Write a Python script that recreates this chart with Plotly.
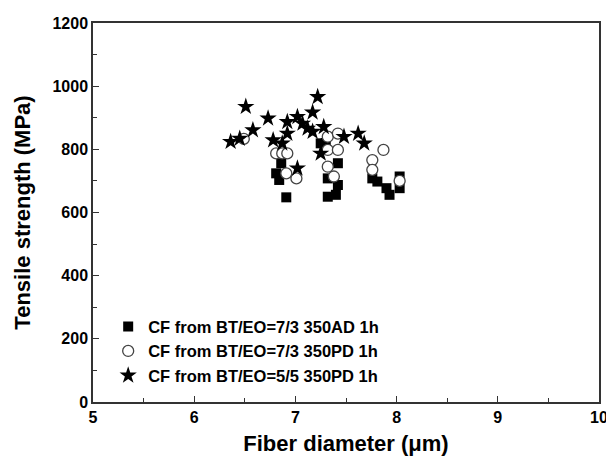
import plotly.graph_objects as go

# Series 1: CF from BT/EO=7/3 350AD 1h (filled squares)
sq_x = [6.86, 6.81, 6.84, 6.91, 7.25, 7.42, 7.32, 7.32, 7.40, 7.42, 7.30, 7.76, 7.81, 7.90, 7.93, 8.03, 8.03]
sq_y = [756, 724, 703, 648, 819, 756, 708, 650, 656, 687, 820, 708, 698, 677, 656, 714, 677]

# Series 2: CF from BT/EO=7/3 350PD 1h (open circles)
ci_x = [6.49, 6.81, 6.87, 6.92, 6.91, 7.01, 7.32, 7.42, 7.32, 7.42, 7.32, 7.38, 7.76, 7.87, 7.76, 8.03]
ci_y = [833, 787, 787, 787, 724, 708, 840, 850, 798, 798, 745, 714, 766, 798, 735, 700]

# Series 3: CF from BT/EO=5/5 350PD 1h (stars)
st_x = [6.36, 6.45, 6.51, 6.58, 6.73, 6.78, 6.87, 6.92, 6.92, 7.02, 7.07, 7.12, 7.02, 7.17, 7.22, 7.17, 7.28, 7.25, 7.48, 7.62, 7.68]
st_y = [824, 834, 935, 861, 898, 829, 819, 887, 850, 903, 882, 866, 740, 917, 966, 856, 871, 787, 840, 850, 819]

names = ["CF from BT/EO=7/3 350AD 1h", "CF from BT/EO=7/3 350PD 1h", "CF from BT/EO=5/5 350PD 1h"]

x_ticks = [5, 6, 7, 8, 9, 10]
y_ticks = [0, 200, 400, 600, 800, 1000, 1200]

fig = go.Figure()
fig.add_trace(go.Scatter(x=sq_x, y=sq_y, mode="markers", name=names[0],
                         marker=dict(symbol="square", size=10, color="black")))
fig.add_trace(go.Scatter(x=ci_x, y=ci_y, mode="markers", name=names[1],
                         marker=dict(symbol="circle", size=11, color="white",
                                     line=dict(color="#444", width=1.3))))
fig.add_trace(go.Scatter(x=st_x, y=st_y, mode="markers", name=names[2],
                         marker=dict(symbol="star", size=13, color="black")))

font = "Liberation Sans, Arial, sans-serif"
axis_common = dict(
    showline=True, linecolor="#333", linewidth=1.5, mirror=True,
    ticks="inside", ticklen=6, tickwidth=1.2, tickcolor="#333",
    showgrid=False, zeroline=False, automargin=False,
    tickfont=dict(family=font, size=16, color="black", weight="bold"),
)

fig.update_xaxes(range=[5, 10], tickvals=x_ticks,
                 minor=dict(ticks="inside", ticklen=4, dtick=0.5, tickcolor="#333"),
                 title=dict(text="Fiber diameter (μm)",
                            font=dict(family=font, size=22, color="black", weight="bold"),
                            standoff=11),
                 **axis_common)
fig.update_yaxes(range=[0, 1200], tickvals=y_ticks,
                 minor=dict(ticks="inside", ticklen=4, dtick=100, tickcolor="#333"),
                 title=dict(text="Tensile strength (MPa)",
                            font=dict(family=font, size=22, color="black", weight="bold"),
                            standoff=16),
                 **axis_common)

fig.update_layout(
    width=606, height=456,
    margin=dict(l=85, r=15, t=15, b=62),
    paper_bgcolor="white", plot_bgcolor="white",
    showlegend=True,
    legend=dict(x=0.03, y=0.023, xanchor="left", yanchor="bottom",
                bgcolor="rgba(0,0,0,0)",
                font=dict(family=font, size=16.5, color="black", weight="bold"),
                itemsizing="trace", tracegroupgap=0),
)

fig.write_html("out.html")
